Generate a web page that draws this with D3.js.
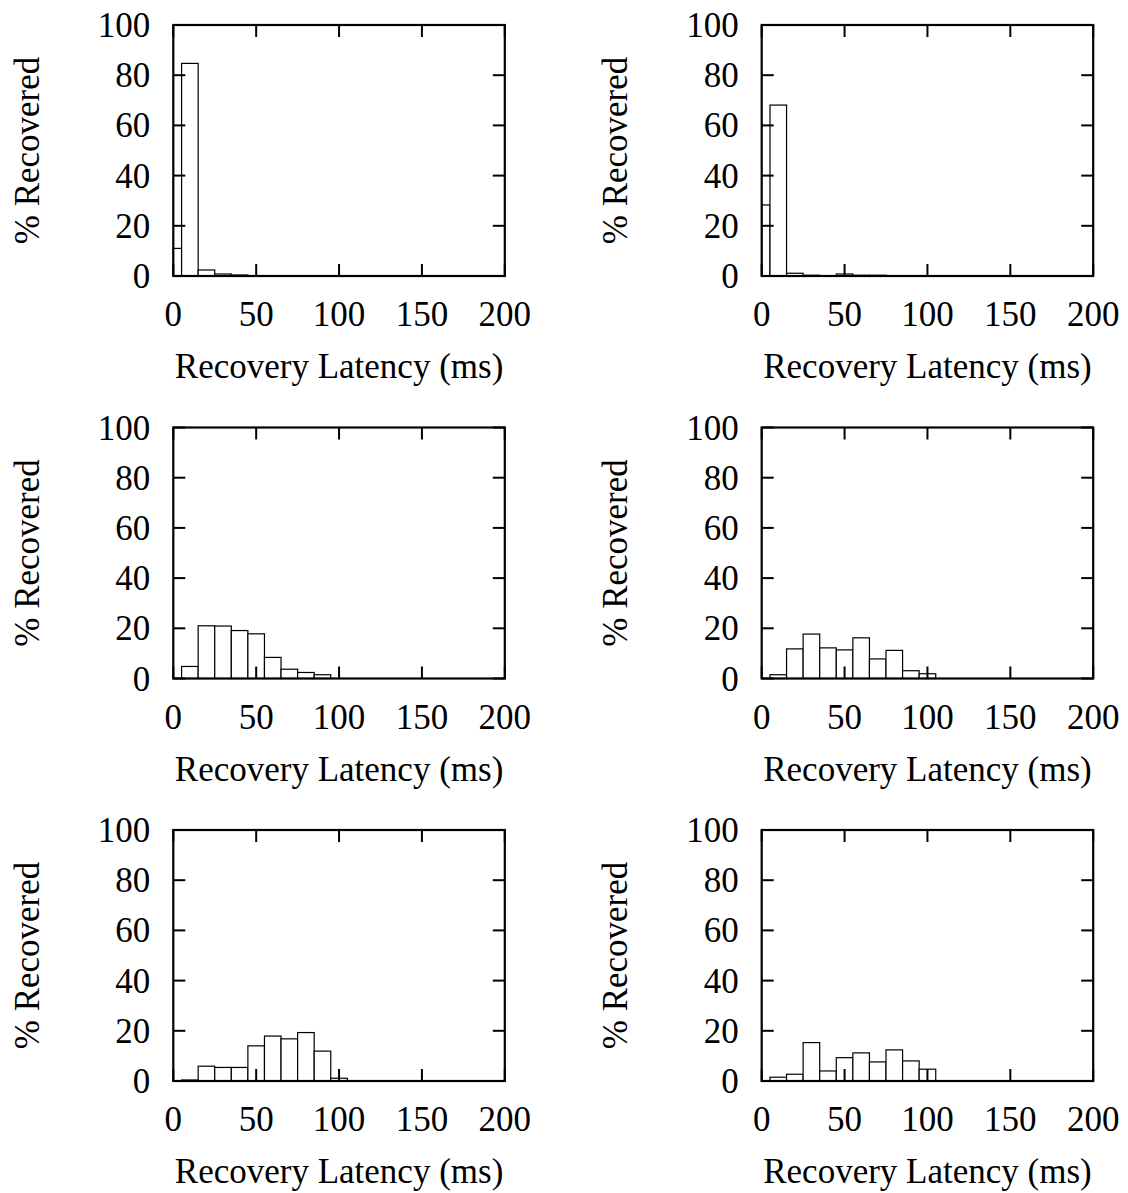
<!DOCTYPE html>
<html>
<head>
<meta charset="utf-8">
<script src="https://cdn.jsdelivr.net/npm/d3@7"></script>
<style>
  html, body { margin: 0; padding: 0; background: #fff; }
  svg text { font-family: "Liberation Serif", "Times New Roman", serif; fill: #000; }
</style>
</head>
<body>
<svg id="chart" width="1128" height="1193"></svg>
<script>
// Histogram bin centres (ms); each bin is 10 ms wide
const binCenters = [0, 10, 20, 30, 40, 50, 60, 70, 80, 90, 100];

// % of losses recovered per latency bin, one array per panel
const topLeft     = [11.0, 84.7, 2.4, 0.8, 0.4, 0, 0, 0, 0, 0, 0];
const topRight    = [28.3, 68.1, 1.1, 0.3, 0, 0.8, 0.3, 0.3, 0, 0, 0];
const middleLeft  = [0, 4.8, 21.0, 20.9, 19.1, 17.8, 8.4, 3.7, 2.4, 1.5, 0];
const middleRight = [0, 1.5, 11.8, 17.7, 12.2, 11.4, 16.2, 7.8, 11.2, 3.1, 1.9];
const bottomLeft  = [0, 0.4, 5.9, 5.4, 5.4, 14.0, 17.9, 16.8, 19.3, 11.9, 1.1];
const bottomRight = [0, 1.5, 2.7, 15.3, 4.0, 9.3, 11.2, 7.6, 12.4, 8.0, 4.7];

// Axis ticks and labels
const xTicks = [0, 50, 100, 150, 200];
const yTicks = [0, 20, 40, 60, 80, 100];
const xLabel = "Recovery Latency (ms)";
const yLabel = "% Recovered";

const panels = [
  { values: topLeft,     col: 0, row: 0 },
  { values: topRight,    col: 1, row: 0 },
  { values: middleLeft,  col: 0, row: 1 },
  { values: middleRight, col: 1, row: 1 },
  { values: bottomLeft,  col: 0, row: 2 },
  { values: bottomRight, col: 1, row: 2 }
];

const svg = d3.select("#chart");
const plotW = 331.5, plotH = 251;
const colX = [173.3, 761.7];
const rowY = [25, 427.5, 830];
const binWidth = 10;
const fontSize = 35;
const tickLen = 12;

panels.forEach(p => {
  const left = colX[p.col], top = rowY[p.row];
  const g = svg.append("g").attr("transform", `translate(${left},${top})`);

  const x = d3.scaleLinear().domain([0, 200]).range([0, plotW]);
  const y = d3.scaleLinear().domain([0, 100]).range([plotH, 0]);

  const bins = binCenters.map((c, i) => ({ c, v: p.values[i] })).filter(d => d.v > 0);

  // Histogram boxes, clipped to the x domain
  g.selectAll("rect.bar").data(bins).join("rect")
    .attr("class", "bar")
    .attr("x", d => x(Math.max(0, d.c - binWidth / 2)))
    .attr("width", d => x(Math.min(200, d.c + binWidth / 2)) - x(Math.max(0, d.c - binWidth / 2)))
    .attr("y", d => y(d.v))
    .attr("height", d => y(0) - y(d.v))
    .attr("fill", "#fff")
    .attr("stroke", "#000")
    .attr("stroke-width", 1.2);

  // Inward ticks on all four sides
  const tickG = g.append("g").attr("stroke", "#000").attr("stroke-width", 2);
  xTicks.forEach(t => {
    tickG.append("line").attr("x1", x(t)).attr("x2", x(t)).attr("y1", plotH).attr("y2", plotH - tickLen);
    tickG.append("line").attr("x1", x(t)).attr("x2", x(t)).attr("y1", 0).attr("y2", tickLen);
  });
  yTicks.forEach(t => {
    tickG.append("line").attr("x1", 0).attr("x2", tickLen).attr("y1", y(t)).attr("y2", y(t));
    tickG.append("line").attr("x1", plotW).attr("x2", plotW - tickLen).attr("y1", y(t)).attr("y2", y(t));
  });

  // Frame
  g.append("rect")
    .attr("x", 0).attr("y", 0).attr("width", plotW).attr("height", plotH)
    .attr("fill", "none").attr("stroke", "#000").attr("stroke-width", 2.2);

  // Tick labels
  g.selectAll("text.xt").data(xTicks).join("text")
    .attr("class", "xt")
    .attr("x", d => x(d)).attr("y", plotH + 50)
    .attr("text-anchor", "middle")
    .attr("font-size", fontSize)
    .text(d => d);
  g.selectAll("text.yt").data(yTicks).join("text")
    .attr("class", "yt")
    .attr("x", -23).attr("y", d => y(d) + 12)
    .attr("text-anchor", "end")
    .attr("font-size", fontSize)
    .text(d => d);

  // Axis titles
  g.append("text")
    .attr("x", plotW / 2).attr("y", plotH + 102)
    .attr("text-anchor", "middle")
    .attr("font-size", fontSize)
    .text(xLabel);
  g.append("text")
    .attr("transform", `translate(${39 - left + (p.col ? 588.4 : 0)},${plotH / 2}) rotate(-90)`)
    .attr("text-anchor", "middle")
    .attr("font-size", fontSize)
    .text(yLabel);
});
</script>
</body>
</html>
